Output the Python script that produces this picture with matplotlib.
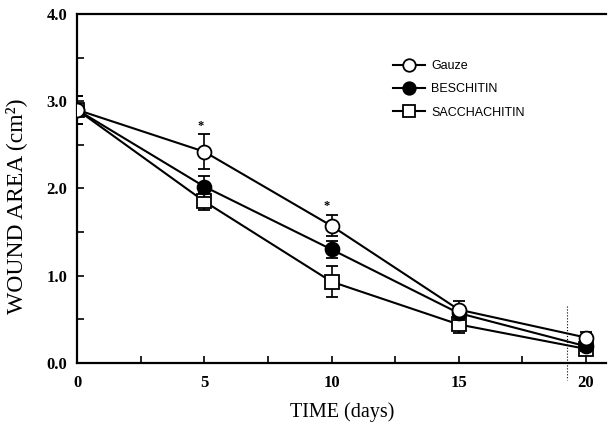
import numpy as np
import matplotlib
matplotlib.use("Agg")
import matplotlib.pyplot as plt
from matplotlib.ticker import MultipleLocator
from matplotlib.lines import Line2D

days = [0, 5, 10, 15, 20]
gauze = [2.9, 2.42, 1.57, 0.61, 0.29]
gauze_err = [0.16, 0.2, 0.12, 0.1, 0.06]
beschitin = [2.9, 2.02, 1.3, 0.57, 0.19]
beschitin_err = [0.16, 0.12, 0.1, 0.08, 0.05]
saccha = [2.9, 1.85, 0.93, 0.44, 0.16]
saccha_err = [0.16, 0.1, 0.18, 0.1, 0.05]

# asterisks (significance marks)
star_x = [4.85, 9.8]
star_y = [2.72, 1.8]

serif = "Liberation Serif"
sans = "Liberation Sans"

fig = plt.figure(figsize=(6.08, 4.34), dpi=100)
ax = fig.add_axes([0.127, 0.164, 0.87, 0.804])

common = dict(color="black", lw=1.5, capsize=4, elinewidth=1.2, capthick=1.5, markersize=10,
              markeredgewidth=1.3, markeredgecolor="black")
ax.errorbar(days, saccha, yerr=saccha_err, marker="s", mfc="white", zorder=3, **common)
ax.errorbar(days, beschitin, yerr=beschitin_err, marker="o", mfc="black", zorder=4, **common)
ax.errorbar(days, gauze, yerr=gauze_err, marker="o", mfc="white", zorder=5, **common)

for sx, sy in zip(star_x, star_y):
    ax.text(sx, sy, "*", fontsize=9, ha="center", va="center", family=serif, fontweight="bold")

ax.set_xlim(0, 20.8)
ax.set_ylim(0, 4.0)
ax.xaxis.set_major_locator(MultipleLocator(5))
ax.xaxis.set_minor_locator(MultipleLocator(2.5))
ax.yaxis.set_major_locator(MultipleLocator(1))
ax.yaxis.set_minor_locator(MultipleLocator(0.5))
ax.set_yticklabels([f"{v:.1f}" for v in ax.get_yticks()])
ax.tick_params(which="both", direction="in", length=5, width=1.2)
ax.tick_params(axis="y", pad=7)
ax.tick_params(axis="x", pad=9)
for lab in ax.get_xticklabels() + ax.get_yticklabels():
    lab.set_family(serif)
    lab.set_fontweight("bold")
    lab.set_fontsize(12)

ax.spines["right"].set_visible(False)
for s in ["left", "bottom", "top"]:
    ax.spines[s].set_linewidth(1.6)

ax.set_xlabel("TIME (days)", family=serif, fontsize=14.5, labelpad=8)
ax.set_ylabel("WOUND AREA (cm²)", family=serif, fontsize=17)
ax.yaxis.set_label_coords(-0.095, 0.45)

handles = [
    Line2D([], [], color="black", lw=1.5, marker="o", mfc="white", mec="black", ms=9, mew=1.3),
    Line2D([], [], color="black", lw=1.5, marker="o", mfc="black", mec="black", ms=9, mew=1.3),
    Line2D([], [], color="black", lw=1.5, marker="s", mfc="white", mec="black", ms=9, mew=1.3),
]
labels = ["Gauze", "BESCHITIN", "SACCHACHITIN"]
ax.legend(handles, labels, loc="upper left", bbox_to_anchor=(0.575, 0.9), frameon=False,
          prop={"family": sans, "size": 9}, handlelength=2.6, handletextpad=0.5,
          labelspacing=0.9)

# faint dotted scan artifact near day 19
ax.plot([19.25, 19.25], [0.65, -0.2], ls=":", color="black", lw=0.8, clip_on=False)

fig.savefig("out.png", dpi=100)
